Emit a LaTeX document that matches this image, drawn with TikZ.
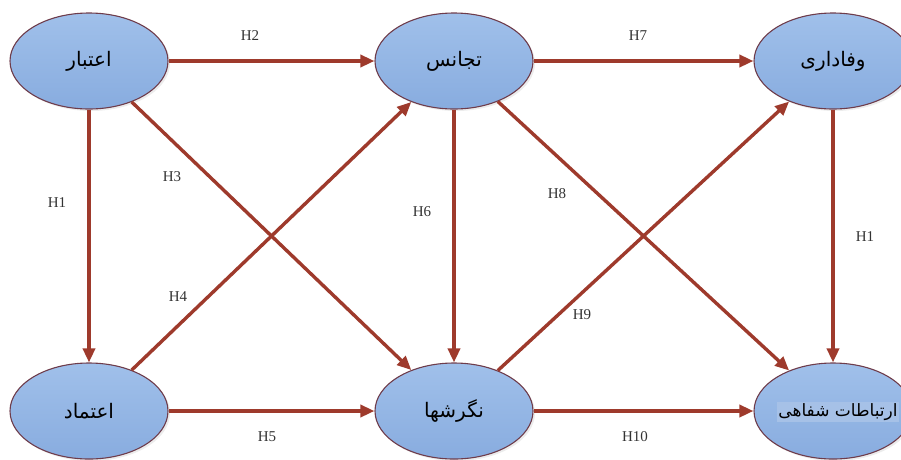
\documentclass[tikz,border=0pt]{standalone}
\usepackage{fontspec}
\setmainfont{Liberation Serif}
\newfontfamily\arabicfont[Script=Arabic]{DejaVu Sans}
\TeXXeTstate=1
\usetikzlibrary{arrows.meta,shapes.geometric,shadows}
\definecolor{nodefill}{RGB}{136,172,223}
\definecolor{nodetop}{RGB}{160,192,234}
\definecolor{nodeedge}{RGB}{110,60,75}
\definecolor{linkcol}{RGB}{158,58,44}
\tikzset{
  concept/.style={ellipse, draw=nodeedge, line width=1.1pt,
    top color=nodetop, bottom color=nodefill,
    minimum width=158pt, minimum height=96pt, inner sep=0pt,
    font=\arabicfont\fontsize{20}{24}\selectfont,
    drop shadow={shadow xshift=2pt, shadow yshift=-2pt, opacity=0.15}},
  link/.style={draw=linkcol, line width=3.4pt,
    -{Triangle[length=14pt,width=12pt]}},
  hlabel/.style={font=\fontsize{15}{18}\selectfont, text=black!80}
}
\begin{document}
\begin{tikzpicture}[x=1pt,y=-1pt]
  \useasboundingbox (0,0) rectangle (901,459);
  % concepts
  \node[concept] (etebar)   at (89,61)   {\beginR اعتبار\endR};
  \node[concept] (tajanos)  at (454,61)  {\beginR تجانس\endR};
  \node[concept] (vafadari) at (833,61)  {\beginR وفاداری\endR};
  \node[concept] (etemad)   at (89,411)  {\beginR اعتماد\endR};
  \node[concept] (negaresh) at (454,411) {\beginR نگرشها\endR};
  \node[concept] (ertebat)  at (833,411) {};
  \node[fill=nodefill!75!white, inner sep=1pt,
    font=\arabicfont\fontsize{17}{20}\selectfont]
    (ertebattext) at (838,412) {\beginR ارتباطات شفاهی\endR};
  % hypotheses
  \draw[link] (etebar) -- (tajanos);
  \draw[link] (tajanos) -- (vafadari);
  \draw[link] (etemad) -- (negaresh);
  \draw[link] (negaresh) -- (ertebat);
  \draw[link] (etebar) -- (etemad);
  \draw[link] (tajanos) -- (negaresh);
  \draw[link] (vafadari) -- (ertebat);
  \draw[link] (etebar) -- (negaresh);
  \draw[link] (etemad) -- (tajanos);
  \draw[link] (tajanos) -- (ertebat);
  \draw[link] (negaresh) -- (vafadari);
  % labels
  \node[hlabel] (h2)  at (250,36)  {H2};
  \node[hlabel] (h7)  at (638,36)  {H7};
  \node[hlabel] (h1a) at (57,203)  {H1};
  \node[hlabel] (h3)  at (172,177) {H3};
  \node[hlabel] (h4)  at (178,297) {H4};
  \node[hlabel] (h6)  at (422,212) {H6};
  \node[hlabel] (h8)  at (557,194) {H8};
  \node[hlabel] (h9)  at (582,315) {H9};
  \node[hlabel] (h1b) at (865,237) {H1};
  \node[hlabel] (h5)  at (267,437) {H5};
  \node[hlabel] (h10) at (635,437) {H10};
\end{tikzpicture}
\end{document}
